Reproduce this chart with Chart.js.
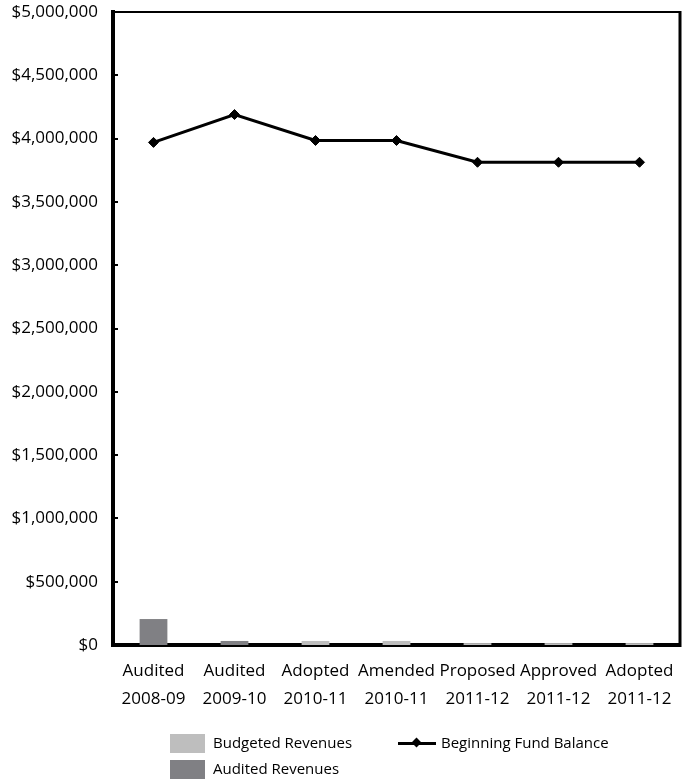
<!DOCTYPE html>
<html>
<head>
<meta charset="utf-8">
<script src="https://cdn.jsdelivr.net/npm/chart.js@4/dist/chart.umd.min.js"></script>
<style>
  html, body { margin: 0; padding: 0; background: #fff; }
  #wrap { position: relative; width: 686px; height: 784px; }
  #chart { position: absolute; left: 0; top: 0; }
  .legend { position: absolute; font: 15px "Open Sans", sans-serif; color: #000; }
  .item { position: absolute; white-space: nowrap; height: 19px; line-height: 19px; }
  .swatch { position: absolute; left: 0; top: 0; width: 35px; height: 19px; }
  .item span.lbl { position: absolute; left: 43px; top: -1px; }
  .lineSym { position: absolute; left: 0; top: 8px; width: 38px; height: 3px; }
  .dia { position: absolute; left: 15px; top: -3px; width: 7px; height: 7px; transform: rotate(45deg); }
</style>
</head>
<body>
<div id="wrap">
  <canvas id="chart" width="686" height="784"></canvas>
  <div class="legend" id="legend"></div>
</div>
<script>
// Fiscal periods along the x axis (two-line labels)
const categories = [
  ['Audited', '2008-09'],
  ['Audited', '2009-10'],
  ['Adopted', '2010-11'],
  ['Amended', '2010-11'],
  ['Proposed', '2011-12'],
  ['Approved', '2011-12'],
  ['Adopted', '2011-12']
];

// Revenue bars and fund balance line, in dollars
const budgetedRevenues = [null, null, 32000, 32000, 15000, 15000, 15000];
const auditedRevenues = [205000, 32000, null, null, null, null, null];
const beginningFundBalance = [3970000, 4190000, 3985000, 3985000, 3813000, 3813000, 3813000];

// Value axis
const yMin = 0;
const yMax = 5000000;
const yStep = 500000;

const BUDGET_COLOR = '#bebebe';
const AUDIT_COLOR = '#808084';
const FONT = '"Open Sans", sans-serif';

const fmtMoney = v => '$' + Number(v).toLocaleString('en-US');

// Frame round the plot area plus short inward ticks on the value axis
const framePlugin = {
  id: 'frame',
  afterDraw(chart) {
    const { ctx, chartArea: a, scales } = chart;
    ctx.save();
    ctx.strokeStyle = '#000';
    ctx.lineWidth = 2;
    ctx.beginPath();
    ctx.moveTo(a.left, a.top);
    ctx.lineTo(a.right, a.top);
    ctx.stroke();
    ctx.lineWidth = 3;
    ctx.beginPath();
    ctx.moveTo(a.right, a.top - 1);
    ctx.lineTo(a.right, a.bottom + 2);
    ctx.stroke();
    const y = scales.y;
    ctx.lineWidth = 2;
    y.ticks.forEach((t, i) => {
      const py = Math.round(y.getPixelForTick(i));
      if (py <= a.top + 1 || py >= a.bottom - 1) return;
      ctx.beginPath();
      ctx.moveTo(a.left, py);
      ctx.lineTo(a.left + 5, py);
      ctx.stroke();
    });
    ctx.restore();
  }
};

const chart = new Chart(document.getElementById('chart'), {
  data: {
    labels: categories,
    datasets: [
      {
        type: 'line',
        label: 'Beginning Fund Balance',
        data: beginningFundBalance,
        borderColor: '#000',
        backgroundColor: '#000',
        borderWidth: 3,
        pointStyle: 'rectRot',
        pointRadius: 5,
        pointBorderWidth: 1,
        pointBackgroundColor: '#000',
        pointBorderColor: '#000',
        tension: 0,
        order: 0
      },
      {
        type: 'bar',
        label: 'Budgeted Revenues',
        data: budgetedRevenues,
        backgroundColor: BUDGET_COLOR,
        grouped: false,
        categoryPercentage: 1,
        barPercentage: 0.343,
        order: 1
      },
      {
        type: 'bar',
        label: 'Audited Revenues',
        data: auditedRevenues,
        backgroundColor: AUDIT_COLOR,
        grouped: false,
        categoryPercentage: 1,
        barPercentage: 0.343,
        order: 1
      }
    ]
  },
  options: {
    responsive: false,
    animation: false,
    layout: { padding: { top: 12, right: 2, left: 0, bottom: 0 } },
    plugins: {
      legend: { display: false },
      tooltip: { enabled: false }
    },
    scales: {
      x: {
        offset: true,
        grid: { display: false, drawTicks: false },
        border: { display: true, color: '#000', width: 4 },
        ticks: {
          color: '#000',
          font: { family: FONT, size: 17, lineHeight: 1.65 },
          padding: 12,
          maxRotation: 0,
          autoSkip: false
        },
        afterFit(s) { s.height = 139; s.paddingLeft = 0; s.paddingRight = 0; }
      },
      y: {
        min: yMin,
        max: yMax,
        grid: { display: false, drawTicks: false },
        border: { display: true, color: '#000', width: 4 },
        ticks: {
          stepSize: yStep,
          color: '#000',
          font: { family: FONT, size: 17 },
          padding: 15,
          callback: v => fmtMoney(v)
        },
        afterFit(s) { s.width = 113; s.paddingTop = 0; s.paddingBottom = 0; }
      }
    }
  },
  plugins: [framePlugin]
});

// Legend laid out in two rows beneath the axis labels
(function buildLegend() {
  const lg = document.getElementById('legend');
  const ds = chart.data.datasets;
  const byLabel = l => ds.find(d => d.label === l);
  const items = [
    { ds: byLabel('Budgeted Revenues'), left: 170, top: 734 },
    { ds: byLabel('Audited Revenues'), left: 170, top: 760 },
    { ds: byLabel('Beginning Fund Balance'), left: 398, top: 734 }
  ];
  items.forEach(it => {
    const el = document.createElement('div');
    el.className = 'item';
    el.style.left = it.left + 'px';
    el.style.top = it.top + 'px';
    if (it.ds.type === 'bar') {
      const sw = document.createElement('div');
      sw.className = 'swatch';
      sw.style.background = it.ds.backgroundColor;
      el.appendChild(sw);
    } else {
      const ln = document.createElement('div');
      ln.className = 'lineSym';
      ln.style.background = it.ds.borderColor;
      const d = document.createElement('div');
      d.className = 'dia';
      d.style.background = it.ds.pointBackgroundColor;
      ln.appendChild(d);
      el.appendChild(ln);
    }
    const t = document.createElement('span');
    t.className = 'lbl';
    t.textContent = it.ds.label;
    el.appendChild(t);
    lg.appendChild(el);
  });
})();
</script>
</body>
</html>
